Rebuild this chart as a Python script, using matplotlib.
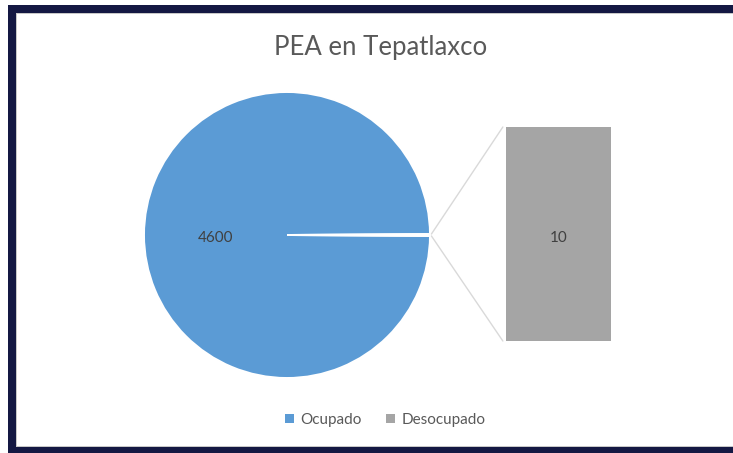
import matplotlib
matplotlib.use("Agg")
import matplotlib.pyplot as plt
from matplotlib.patches import Rectangle, Patch, ConnectionPatch
import numpy as np

categories = ["Ocupado", "Desocupado"]
values = [4600, 10]
colors = ["#5B9BD5", "#A5A5A5"]
title = "PEA en Tepatlaxco"

W, H = 733, 453
plt.rcParams["font.family"] = ["Lato", "DejaVu Sans"]


def fbox(x0, y0, x1, y1):
    # pixel box (top-left origin) -> figure fraction [l, b, w, h]
    return [x0 / W, 1 - y1 / H, (x1 - x0) / W, (y1 - y0) / H]


fig = plt.figure(figsize=(W / 100, H / 100), dpi=100)
fig.patch.set_facecolor("white")

# frame
for (x0, y0, x1, y1, c) in [(8, 5, 733, 453, "#141843"),
                            (16, 13, 733, 447, "#c8c8c8"),
                            (17, 14, 733, 446, "white")]:
    l, b, w, h = fbox(x0, y0, x1, y1)
    fig.patches.append(Rectangle((l, b), w, h, transform=fig.transFigure,
                                 facecolor=c, edgecolor="none", zorder=-10))

# pie
ax = fig.add_axes(fbox(144, 92, 430, 378))
small_ang = values[1] / sum(values) * 360
wedges, _ = ax.pie(values, colors=colors, startangle=small_ang / 2,
                   counterclock=True, radius=1,
                   wedgeprops=dict(edgecolor="white", linewidth=1.4))
ax.set_xlim(-1, 1)
ax.set_ylim(-1, 1)
ax.set_aspect("auto")
ax.axis("off")
ax.text(-0.5, -0.02, str(values[0]), ha="center", va="center",
        fontsize=11, color="#404040")

# bar of the "other" group
bx = fig.add_axes(fbox(506, 127, 611, 341))
bx.bar(0, values[1], width=1, color=colors[1])
bx.set_xlim(-0.5, 0.5)
bx.set_ylim(0, values[1])
bx.axis("off")
bx.text(0, values[1] * 0.48, str(values[1]), ha="center", va="center",
        fontsize=11, color="#404040")

# connectors
for ang, yb in [(small_ang / 2, values[1]), (-small_ang / 2, 0)]:
    t = np.deg2rad(ang)
    con = ConnectionPatch(xyA=(np.cos(t) + 0.01, np.sin(t)), coordsA=ax.transData,
                          xyB=(-0.53, yb), coordsB=bx.transData,
                          color="#D9D9D9", linewidth=1)
    fig.add_artist(con)

fig.text(381 / W, 1 - 47 / H, title, ha="center", va="center",
         fontsize=18.5, color="#595959")

handles = [Patch(facecolor=c, edgecolor="none") for c in colors]
fig.legend(handles, categories, loc="center", bbox_to_anchor=(385 / W, 1 - 420 / H),
           ncol=2, frameon=False, fontsize=11, handlelength=0.6, handleheight=0.6,
           handletextpad=0.4, columnspacing=1.6, labelcolor="#595959")

fig.savefig("out.png", dpi=100)
